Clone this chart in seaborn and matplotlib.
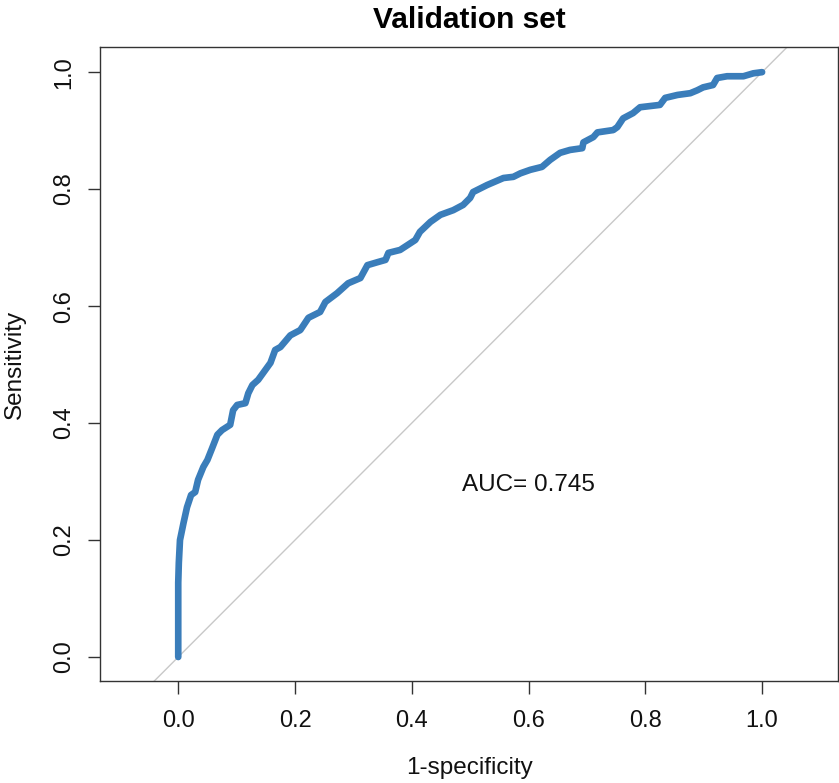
import numpy as np
import pandas as pd
import matplotlib
matplotlib.use("Agg")
import matplotlib.pyplot as plt
import seaborn as sns

# ROC curve
fpr = [0.0, 0.0, 0.001, 0.003, 0.009, 0.015, 0.022, 0.029, 0.034, 0.043, 0.050,
       0.058, 0.067, 0.075, 0.089, 0.094, 0.101, 0.115, 0.120, 0.127, 0.137,
       0.158, 0.166, 0.175, 0.192, 0.209, 0.223, 0.243, 0.252, 0.272, 0.291,
       0.312, 0.324, 0.341, 0.355, 0.360, 0.380, 0.406, 0.414, 0.432, 0.449,
       0.471, 0.488, 0.500, 0.505, 0.529, 0.557, 0.574, 0.586, 0.603, 0.623,
       0.637, 0.654, 0.671, 0.692, 0.694, 0.711, 0.718, 0.745, 0.752, 0.762,
       0.779, 0.791, 0.825, 0.834, 0.855, 0.877, 0.889, 0.899, 0.916, 0.923,
       0.940, 0.968, 0.985, 1.0]
tpr = [0.0, 0.127, 0.161, 0.200, 0.229, 0.256, 0.277, 0.282, 0.303, 0.325, 0.337,
       0.357, 0.380, 0.388, 0.397, 0.422, 0.431, 0.434, 0.451, 0.465, 0.474,
       0.503, 0.525, 0.530, 0.550, 0.559, 0.580, 0.590, 0.607, 0.622, 0.639,
       0.648, 0.670, 0.675, 0.679, 0.691, 0.696, 0.713, 0.727, 0.744, 0.756,
       0.764, 0.773, 0.785, 0.795, 0.807, 0.819, 0.821, 0.827, 0.833, 0.838,
       0.850, 0.862, 0.867, 0.870, 0.880, 0.889, 0.897, 0.901, 0.906, 0.921,
       0.930, 0.940, 0.944, 0.956, 0.961, 0.964, 0.969, 0.974, 0.978, 0.990,
       0.993, 0.993, 0.998, 1.0]
auc_text = "AUC= 0.745"
tick_vals = [0.0, 0.2, 0.4, 0.6, 0.8, 1.0]
tick_labels = ["0.0", "0.2", "0.4", "0.6", "0.8", "1.0"]

sns.set_style("white")
plt.rcParams['font.family'] = ['Liberation Sans', 'DejaVu Sans']

df = pd.DataFrame({"fpr": fpr, "tpr": tpr})

fig = plt.figure(figsize=(8.39, 7.83), dpi=100)
ax = fig.add_axes([100/839, 1-681/783, 738/839, 634/783])

ax.set_xlim(-0.134, 1.130)
ax.set_ylim(-0.041, 1.043)

# diagonal reference
ax.plot([-0.2, 1.2], [-0.2, 1.2], color="#c8c8c8", lw=1.0, zorder=1)

sns.lineplot(data=df, x="fpr", y="tpr", sort=False, estimator=None,
             color="#3a7dba", linewidth=4.8, ax=ax, zorder=2,
             solid_capstyle="round", solid_joinstyle="round")

ax.text(0.599, 0.294, auc_text, fontsize=17.5, ha="center", va="center", color="#111111")

ax.set_xticks(tick_vals)
ax.set_xticklabels(tick_labels)
ax.set_yticks(tick_vals)
ax.set_yticklabels(tick_labels, rotation=90, va="center")
ax.tick_params(axis="both", direction="out", length=9, width=1, color="#333333",
               labelsize=17, labelcolor="#111111", bottom=True, left=True)
ax.tick_params(axis="x", pad=12)
ax.tick_params(axis="y", pad=9)

for s in ax.spines.values():
    s.set_visible(True)
    s.set_color("#333333")
    s.set_linewidth(1.0)

ax.set_xlabel("1-specificity", fontsize=17.5, color="#111111", va="center")
ax.xaxis.set_label_coords(0.5, -(768-681)/634)
ax.set_ylabel("Sensitivity", fontsize=17.5, color="#111111", va="center")
ax.yaxis.set_label_coords(-(100-15)/738, 0.5)
ax.set_title("Validation set", fontsize=21.5, fontweight="bold", pad=14, color="#000000")

fig.savefig("out.png", dpi=100)
